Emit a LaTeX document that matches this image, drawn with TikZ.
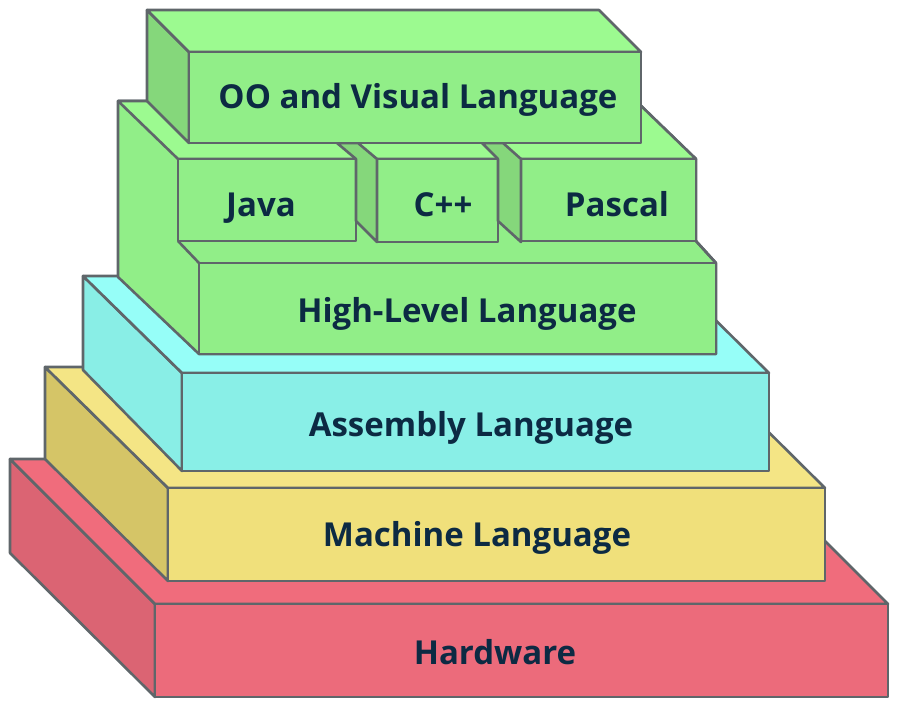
\documentclass[tikz,border=0pt]{standalone}
\usepackage{fontspec}
\setmainfont{Open Sans}
\definecolor{edgec}{HTML}{5F666A}
\definecolor{txt}{HTML}{0C2A43}
\definecolor{hwTop}{HTML}{F06C7C}
\definecolor{hwSide}{HTML}{DB6473}
\definecolor{hwFront}{HTML}{EC6B7B}
\definecolor{mlTop}{HTML}{F4E585}
\definecolor{mlSide}{HTML}{D5C567}
\definecolor{mlFront}{HTML}{F0E07B}
\definecolor{asTop}{HTML}{96FEF8}
\definecolor{asSide}{HTML}{89EEE6}
\definecolor{asFront}{HTML}{89EFE7}
\definecolor{grTop}{HTML}{9CFA90}
\definecolor{grSide}{HTML}{85D77B}
\definecolor{grFront}{HTML}{91EE88}
\begin{document}
\begin{tikzpicture}[x=1pt,y=-1pt,
  face/.style={draw=edgec, line width=2.6pt, line join=round},
  lbl/.style={text=txt, font=\fontsize{33}{35}\selectfont\bfseries, inner sep=0pt, anchor=base}]
\useasboundingbox (0,0) rectangle (898,709);
% Hardware
\filldraw[face, fill=hwSide] (10,459) -- (155,604) -- (155,697) -- (10,553) -- cycle;
\filldraw[face, fill=hwTop] (10,459) -- (743,459) -- (888,604) -- (155,604) -- cycle;
\filldraw[face, fill=hwFront] (155,604) rectangle (888,697);
% Machine
\filldraw[face, fill=mlSide] (45,367) -- (168,488) -- (168,581) -- (45,459) -- cycle;
\filldraw[face, fill=mlTop] (45,367) -- (703,367) -- (825,488) -- (168,488) -- cycle;
\filldraw[face, fill=mlFront] (168,488) rectangle (825,581);
% Assembly
\filldraw[face, fill=asSide] (83,276) -- (182,373) -- (182,471) -- (83,370) -- cycle;
\filldraw[face, fill=asTop] (83,276) -- (671,276) -- (769,373) -- (182,373) -- cycle;
\filldraw[face, fill=asFront] (182,373) rectangle (769,471);
% High-level block
\filldraw[face, fill=grFront] (118,101) -- (636,101) -- (696,159) -- (696,241) -- (716,263)
  -- (716,354) -- (199,354) -- (118,277) -- cycle;
\filldraw[face, fill=grTop] (118,101) -- (636,101) -- (696,159) -- (178,159) -- cycle;
\draw[face] (178,241) -- (199,263);
\draw[face] (696,241) -- (716,263);
\filldraw[face, fill=grFront] (178,159) rectangle (356,241);
\filldraw[face, fill=grFront] (377,159) rectangle (498,242);
\filldraw[face, fill=grFront] (521,159) rectangle (696,241);
\filldraw[face, fill=grSide] (337,143) -- (358,143) -- (377,159) -- (377,242) -- (356,221) -- (356,159) -- cycle;
\filldraw[face, fill=grSide] (482,143) -- (503,143) -- (521,159) -- (521,242) -- (498,221) -- (498,159) -- cycle;
\filldraw[face, fill=grFront] (199,263) rectangle (716,354);
% OO box
\filldraw[face, fill=grSide] (147,10) -- (189,52) -- (189,143) -- (147,101) -- cycle;
\filldraw[face, fill=grTop] (147,10) -- (599,10) -- (641,52) -- (189,52) -- cycle;
\filldraw[face, fill=grFront] (189,52) rectangle (641,143);
% Labels
\node[lbl] (oo) at (418,109) {OO and Visual Language};
\node[lbl] (java) at (261,216) {Java};
\node[lbl] (cpp) at (443,216) {C++};
\node[lbl] (pascal) at (617,216) {Pascal};
\node[lbl] (hl) at (467,322) {High-Level Language};
\node[lbl] (asm) at (471,436) {Assembly Language};
\node[lbl] (ml) at (477,546) {Machine Language};
\node[lbl] (hw) at (495,664) {Hardware};
\end{tikzpicture}
\end{document}
